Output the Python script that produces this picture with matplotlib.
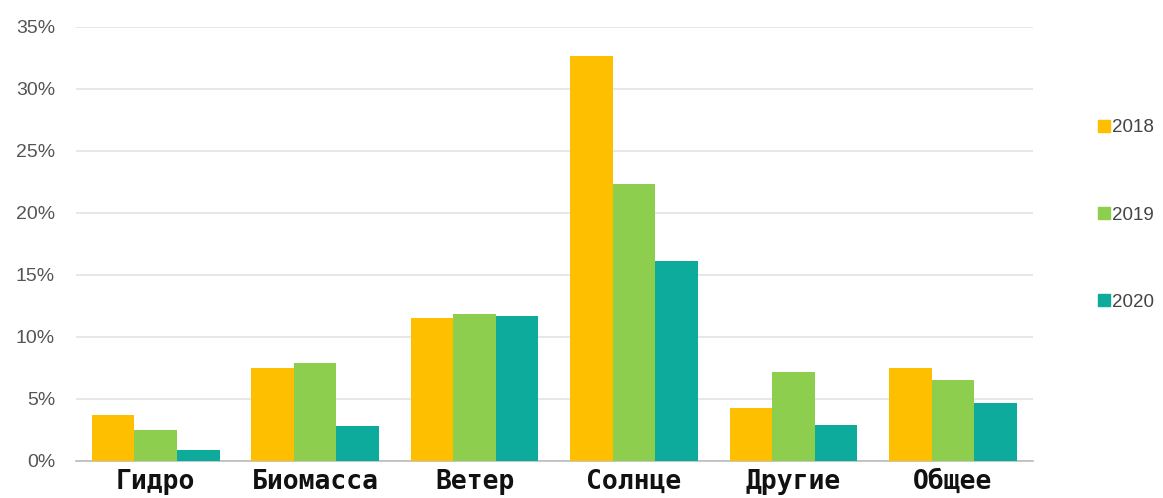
import numpy as np
import matplotlib.pyplot as plt
from matplotlib.patches import Patch

categories = ["Гидро", "Биомасса", "Ветер", "Солнце", "Другие", "Общее"]
years = ["2018", "2019", "2020"]
share_2018 = [3.7, 7.5, 11.5, 32.7, 4.3, 7.5]
share_2019 = [2.5, 7.9, 11.85, 22.3, 7.15, 6.5]
share_2020 = [0.85, 2.8, 11.7, 16.1, 2.9, 4.65]
colors = ["#FDBF00", "#8DCE4F", "#0CAB9B"]

fig = plt.figure(figsize=(11.63, 4.98), dpi=100)
ax = fig.add_axes([0.0653, 0.0743, 0.8227, 0.8715])

x = np.arange(len(categories))
w = 0.267
for i, (vals, c) in enumerate(zip([share_2018, share_2019, share_2020], colors)):
    ax.bar(x + (i - 1) * w, vals, width=w, color=c, zorder=3)

ax.set_xlim(-0.5, len(categories) - 0.5)
ax.set_ylim(0, 35)
ax.set_yticks(range(0, 36, 5))
ax.set_yticklabels([f"{v}%" for v in range(0, 36, 5)], color="#555555",
                   fontsize=14, family="Liberation Sans")
ax.yaxis.grid(True, color="#e3e3e3", linewidth=1.2, zorder=0)
ax.tick_params(axis="y", length=0, pad=15)
ax.tick_params(axis="x", length=0, pad=6)
ax.set_xticks(x)
ax.set_xticklabels(categories, fontsize=19, fontweight="bold",
                   family="DejaVu Sans Mono", color="#111111")
for s in ["top", "right", "left"]:
    ax.spines[s].set_visible(False)
ax.spines["bottom"].set_color("#bbbbbb")
ax.spines["bottom"].set_linewidth(1.2)

handles = [Patch(color=c, label=y) for c, y in zip(colors, years)]
fig.legend(handles=handles, loc="center left", bbox_to_anchor=(0.93, 0.568),
           frameon=False, handlelength=0.6, handleheight=0.6, handletextpad=0.1,
           labelspacing=3.75, prop={"family": "Liberation Sans", "size": 13.5},
           labelcolor="#444444")

fig.savefig("out.png", dpi=100)
